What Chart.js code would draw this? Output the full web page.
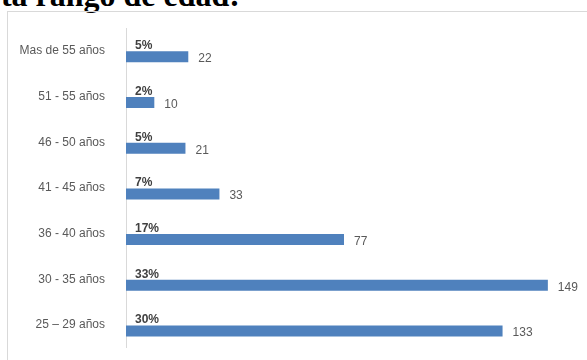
<!DOCTYPE html>
<html>
<head>
<meta charset="utf-8">
<script src="https://cdn.jsdelivr.net/npm/chart.js@4"></script>
<style>
  html, body { margin: 0; padding: 0; background: #fff; overflow: hidden; }
  #wrap { position: relative; width: 587px; height: 360px; overflow: hidden; }
  #heading {
    position: absolute; right: 347px; top: -23px; line-height: 36px;
    font: bold 32px "Liberation Serif", serif; color: #000; white-space: nowrap;
  }
  #frame {
    position: absolute; left: 7px; top: 11px; width: 620px; height: 400px;
    border: 1px solid #d9d9d9; box-sizing: border-box;
  }
  #edades { position: absolute; left: 0; top: 0; }
</style>
</head>
<body>
<div id="wrap">
  <div id="heading">ta rango de edad:</div>
  <div id="frame"></div>
  <canvas id="edades" width="587" height="368"></canvas>
</div>
<script>
const rangos = [
  "Mas de 55 años",
  "51 - 55 años",
  "46 - 50 años",
  "41 - 45 años",
  "36 - 40 años",
  "30 - 35 años",
  "25 \u2013 29 años",
];
const personas = [22, 10, 21, 33, 77, 149, 133];
const porcentajes = [5, 2, 5, 7, 17, 33, 30];

// etiquetas: porcentaje encima de la barra, cantidad al final
const etiquetas = {
  id: "etiquetas",
  afterDatasetsDraw(chart) {
    const ctx = chart.ctx;
    const x0 = chart.scales.x.getPixelForValue(0);
    ctx.save();
    ctx.textBaseline = "middle";
    ctx.textAlign = "left";

    ctx.font = "bold 12px 'Liberation Sans', sans-serif";
    ctx.fillStyle = "#404040";
    chart.getDatasetMeta(0).data.forEach((bar, i) => {
      ctx.fillText(porcentajes[i] + "%", x0 + 9, bar.y + 1);
    });

    ctx.font = "12px 'Liberation Sans', sans-serif";
    ctx.fillStyle = "#595959";
    chart.getDatasetMeta(1).data.forEach((bar, i) => {
      ctx.fillText(personas[i], bar.x + 10, bar.y + 2);
    });
    ctx.restore();
  },
};

new Chart(document.getElementById("edades"), {
  type: "bar",
  data: {
    labels: rangos,
    datasets: [
      {
        label: "Porcentaje",
        data: porcentajes.map((p) => p / 100),
        backgroundColor: "rgba(0,0,0,0)",
        categoryPercentage: 0.525,
        barPercentage: 0.917,
      },
      {
        label: "Personas",
        data: personas,
        backgroundColor: "#4f81bd",
        categoryPercentage: 0.525,
        barPercentage: 0.917,
      },
    ],
  },
  options: {
    indexAxis: "y",
    responsive: false,
    animation: false,
    layout: { padding: { top: 28, bottom: 12, right: 8, left: 0 } },
    plugins: {
      legend: { display: false },
      tooltip: { enabled: false },
    },
    scales: {
      x: { display: false, min: 0, max: 160 },
      y: {
        grid: { display: false },
        border: { display: true, color: "#d9d9d9", width: 1 },
        ticks: {
          color: "#595959",
          padding: 13,
          font: { family: "'Liberation Sans', sans-serif", size: 12 },
        },
        afterFit(scale) {
          scale.width = 126;
        },
      },
    },
  },
  plugins: [etiquetas],
});
</script>
</body>
</html>
